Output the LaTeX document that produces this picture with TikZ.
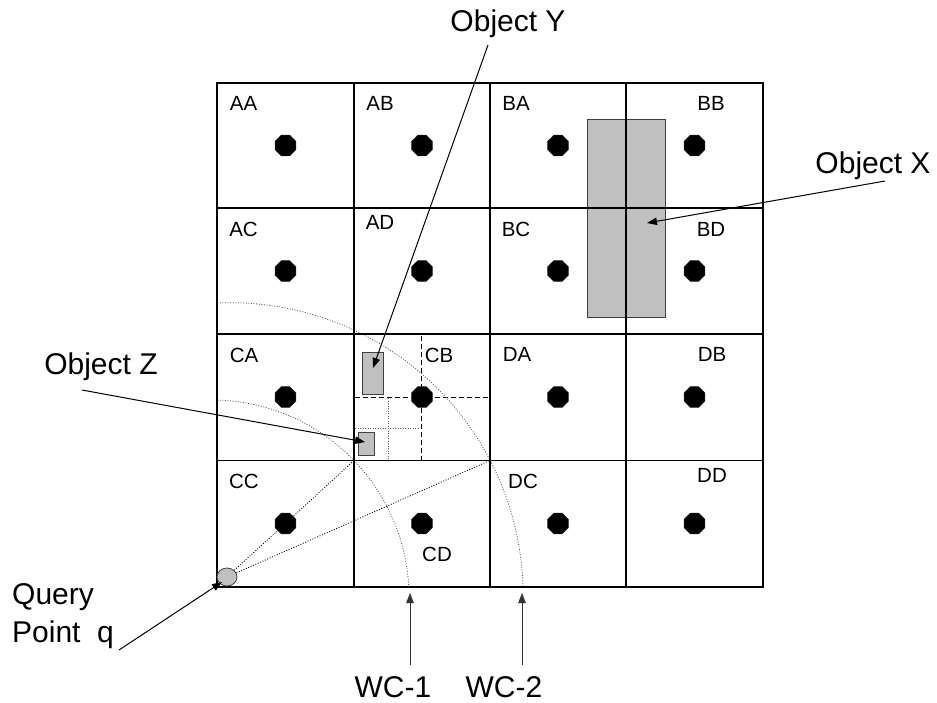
\documentclass[tikz,border=0pt]{standalone}
\usepackage{fontspec}
\setmainfont{Liberation Sans}
\usetikzlibrary{shapes.geometric,arrows.meta}
\definecolor{objgray}{HTML}{C0C0C0}
\definecolor{edgegray}{HTML}{404040}
\definecolor{arcgray}{HTML}{5A5A5A}
\begin{document}
\begin{tikzpicture}[x=1pt,y=-1pt,
  gridline/.style={line width=1.6pt},
  centroid/.style={regular polygon,regular polygon sides=8,fill=black,draw=black!85,line width=0.4pt,inner sep=0pt,minimum size=22.5pt},
  cell/.style={font=\fontsize{20.5}{24}\selectfont,anchor=base,inner sep=0pt},
  caption/.style={font=\fontsize{30}{36}\selectfont,anchor=base,inner sep=0pt},
  object/.style={fill=objgray,draw=edgegray,line width=1pt},
  pointer/.style={line width=1pt,-{Triangle[length=10pt,width=7.5pt]}},
  split/.style={line width=1pt,dash pattern=on 5pt off 3pt},
  subsplit/.style={line width=0.7pt,dash pattern=on 1pt off 1.5pt,draw=arcgray},
  wave/.style={line width=0.8pt,dash pattern=on 1pt off 1.6pt,draw=arcgray},
  ray/.style={line width=0.8pt,dash pattern=on 1pt off 1.6pt}
]
\useasboundingbox (0,0) rectangle (937,702);

% objects under the grid
\draw[object] (587,119) rectangle (665,317);
\draw[object] (362,352) rectangle (383,394);
\draw[object] (358,432) rectangle (374,455);

% subdivision of cell CB
\draw[split] (421,336) -- (421,460);
\draw[split] (355,397) -- (489,397);
\draw[subsplit] (388,398) -- (388,460);
\draw[subsplit] (355,428) -- (420,428);

% search wavefronts around the query point
\draw[wave] plot[domain=-88.5:-2.9,samples=90] ({212+197*cos(\x)},{597+197*sin(\x)});
\draw[wave] plot[domain=-92.6:-1.6,samples=120] ({230.5+292.6*cos(\x)},{595.3+292.6*sin(\x)});

% 4x4 grid
\draw[gridline] (217,83) rectangle (763,587);
\foreach \gx in {354,490,626} \draw[gridline] (\gx,83) -- (\gx,587);
\foreach \gy in {208,334,460.5} \draw[gridline] (217,\gy) -- (763,\gy);

% cell centroids
\foreach \cx [count=\i] in {285.5,422,558,694.5}
  \foreach \cy [count=\j] in {145.5,271,397,523.5}
    \node[centroid] (dot-\i-\j) at (\cx,\cy) {};

% cell names
\node[cell] (AA) at (243.5,110) {AA};
\node[cell] (AB) at (380,110) {AB};
\node[cell] (BA) at (516,110) {BA};
\node[cell] (BB) at (711,110) {BB};
\node[cell] (AC) at (243.5,236) {AC};
\node[cell] (AD) at (380,229) {AD};
\node[cell] (BC) at (516,236) {BC};
\node[cell] (BD) at (711,236) {BD};
\node[cell] (CA) at (244,362) {CA};
\node[cell] (CB) at (439,362) {CB};
\node[cell] (DA) at (517,361) {DA};
\node[cell] (DB) at (712,361) {DB};
\node[cell] (CC) at (244,488) {CC};
\node[cell] (CD) at (437,561) {CD};
\node[cell] (DC) at (523,488) {DC};
\node[cell] (DD) at (712,482) {DD};

% query point and rays to the grid corners
\node[ellipse,fill=objgray,draw=edgegray,line width=0.8pt,minimum width=20pt,minimum height=18pt,inner sep=0pt] (q) at (227,577) {};
\coordinate (corner1) at (354,460.5);
\coordinate (corner2) at (490,460.5);
\draw[ray] (q) -- (corner1);
\draw[ray] (q) -- (corner2);

% captions
\node[caption] (objY) at (508,31) {Object Y};
\node[caption] (objX) at (873,173) {Object X};
\node[caption] (objZ) at (101,374) {Object Z};
\node[caption,anchor=base west] (query1) at (12,604) {Query};
\node[caption,anchor=base west] (query2) at (12,642) {Point~~q};
\node[caption] (wc1) at (393,697) {WC-1};
\node[caption] (wc2) at (504,697) {WC-2};

% pointers
\coordinate (yTail) at (488,45);   \coordinate (yTip) at (373,368);
\coordinate (xTail) at (885,181);  \coordinate (xTip) at (647,223);
\coordinate (zTail) at (82,390);   \coordinate (zTip) at (365,442);
\coordinate (qTail) at (119,650);  \coordinate (qTip) at (222,582);
\coordinate (w1Tail) at (410,665); \coordinate (w1Tip) at (410,593);
\coordinate (w2Tail) at (522,665); \coordinate (w2Tip) at (522,593);
\draw[pointer] (yTail) -- (yTip);
\draw[pointer] (xTail) -- (xTip);
\draw[pointer] (zTail) -- (zTip);
\draw[pointer] (qTail) -- (qTip);
\draw[pointer,draw=black!80] (w1Tail) -- (w1Tip);
\draw[pointer,draw=black!80] (w2Tail) -- (w2Tip);
\end{tikzpicture}
\end{document}
